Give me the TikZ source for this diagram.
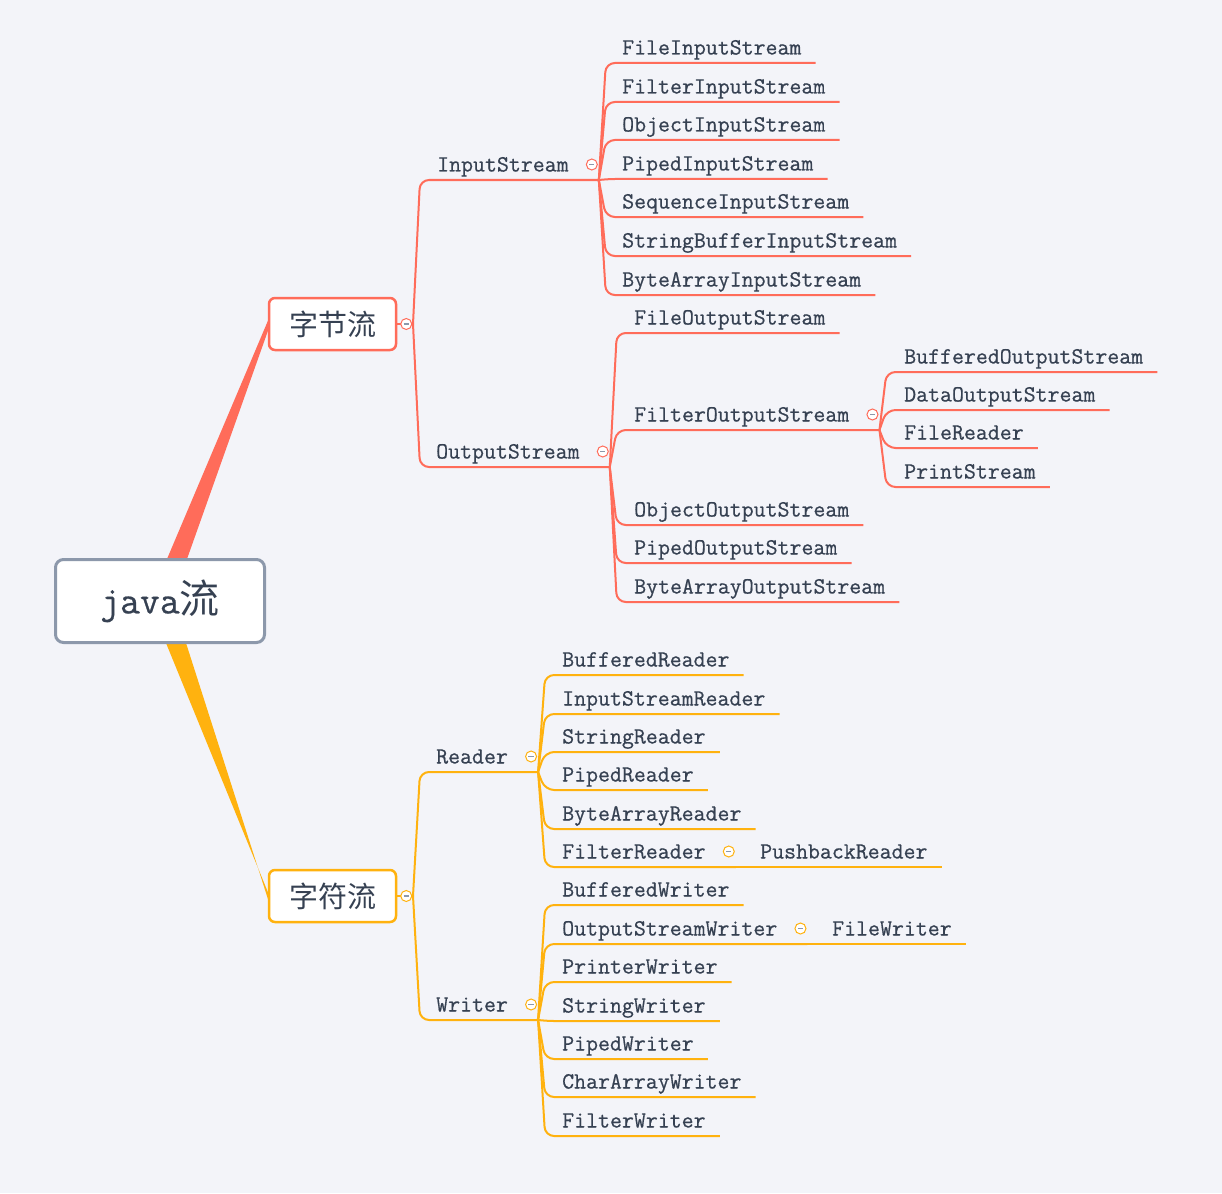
\documentclass[tikz,border=0pt]{standalone}
\usepackage{fontspec}
\usetikzlibrary{calc}
\newfontfamily\monofnt[FakeBold=0.6]{Latin Modern Mono}
\newfontfamily\cjkfnt{Noto Sans CJK SC}
\definecolor{bgc}{HTML}{F3F4F9}
\definecolor{cred}{HTML}{FF6C5A}
\definecolor{cyel}{HTML}{FFB20F}
\definecolor{txtc}{HTML}{364152}
\definecolor{rootb}{HTML}{8C98AB}
\definecolor{minusc}{HTML}{8C98AB}
\pgfdeclarelayer{bglayer}
\pgfsetlayers{bglayer,main}
\tikzset{
  leaf/.style={anchor=base west, inner sep=0pt, font=\monofnt\fontsize{23.2}{28}\selectfont, text=txtc},
  rl/.style={draw=cred, line width=2pt, rounded corners=9pt},
  yl/.style={draw=cyel, line width=2pt, rounded corners=9pt},
  colbtn/.style={circle, draw=#1, fill=white, minimum size=11pt, inner sep=0pt, line width=1pt,
    path picture={\draw[minusc, line width=1.3pt] ($(path picture bounding box.center)+(-2.6,0)$) -- ++(5.2,0);}},
  topbox/.style={draw=#1, line width=2.5pt, fill=white, rounded corners=6pt, minimum width=127pt, minimum height=52pt,
    font=\cjkfnt\fontsize{29}{34}\selectfont, text=txtc},
  rootbox/.style={draw=rootb, line width=3pt, fill=white, rounded corners=8pt, minimum width=209pt, minimum height=83pt, text=txtc}
}
% #1 style, #2 junction, #3 name, #4 x, #5 underline y, #6 text
\newcommand\leafn[6]{%
  \node[leaf] (#3) at (#4,#5-8.5) {#6};
  \coordinate (#3u) at ([xshift=14pt,yshift=-8.5pt]#3.base east);
  \draw[#1] (#2) -- ($(#2 |- #3u)+(7,0)$) -- (#3u);}
% #1 style, #2 junction, #3 name, #4 x, #5 underline y, #6 text, #7 colour
\newcommand\hubn[7]{%
  \node[leaf] (#3) at (#4,#5-8.5) {#6};
  \coordinate (#3J) at ([xshift=30pt,yshift=-8.5pt]#3.base east);
  \draw[#1] (#2) -- ($(#2 |- #3J)+(7,0)$) -- (#3J);
  \node[colbtn=#7] (#3c) at ([xshift=23pt,yshift=7pt]#3.base east) {};}
\begin{document}
\begin{tikzpicture}[x=1pt,y=-1pt]
\begin{pgfonlayer}{bglayer}
\fill[bgc] (0,0) rectangle (1222,1193);
\end{pgfonlayer}
\useasboundingbox (0,0) rectangle (1222,1193);

% main boxes
\node[topbox=cred] (b1) at (332.5,324) {字节流};
\node[topbox=cyel] (b2) at (332.5,896) {字符流};
\node[rootbox] (root) at (160,601)
  {\monofnt\fontsize{38.6}{46}\selectfont java\cjkfnt\fontsize{40}{48}\selectfont 流};

% wedges
\begin{pgfonlayer}{bglayer}
\fill[cred] ($(root.north)+(7,1)$) -- ($(root.north)+(27,1)$) -- ($(b1.west)+(0.5,6)$) -- ($(b1.west)+(0.5,-4)$) -- cycle;
\fill[cyel] ($(root.south)+(6,-1)$) -- ($(root.south)+(26,-1)$) -- ($(b2.west)+(0.5,4)$) -- ($(b2.west)+(0.5,-3)$) -- cycle;
\end{pgfonlayer}

% trunks
\coordinate (t1) at (413,324);
\coordinate (t2) at (413,896);
\draw[rl] (b1.east) -- (t1);
\draw[yl] (b2.east) -- (t2);

% byte streams
\hubn{rl}{t1}{is}{437}{180}{InputStream}{cred}
\hubn{rl}{t1}{os}{436}{467}{OutputStream}{cred}
\node[colbtn=cred] (b1c) at ([xshift=9pt]b1.east) {};

\leafn{rl}{isJ}{fis}{622}{63}{FileInputStream}
\leafn{rl}{isJ}{ftis}{622}{102}{FilterInputStream}
\leafn{rl}{isJ}{ois}{622}{140}{ObjectInputStream}
\leafn{rl}{isJ}{pis}{622}{179}{PipedInputStream}
\leafn{rl}{isJ}{sis}{622}{217}{SequenceInputStream}
\leafn{rl}{isJ}{sbis}{622}{256}{StringBufferInputStream}
\leafn{rl}{isJ}{bais}{622}{295}{ByteArrayInputStream}

\leafn{rl}{osJ}{fos}{634}{333}{FileOutputStream}
\hubn{rl}{osJ}{ftos}{634}{430}{FilterOutputStream}{cred}
\leafn{rl}{osJ}{oos}{634}{525}{ObjectOutputStream}
\leafn{rl}{osJ}{pos}{634}{563}{PipedOutputStream}
\leafn{rl}{osJ}{baos}{634}{602}{ByteArrayOutputStream}

\leafn{rl}{ftosJ}{bos}{904}{372}{BufferedOutputStream}
\leafn{rl}{ftosJ}{dos}{904}{410}{DataOutputStream}
\leafn{rl}{ftosJ}{fr}{904}{448}{FileReader}
\leafn{rl}{ftosJ}{ps}{904}{487}{PrintStream}

% character streams
\hubn{yl}{t2}{rd}{436}{772}{Reader}{cyel}
\hubn{yl}{t2}{wr}{436}{1020}{Writer}{cyel}
\node[colbtn=cyel] (b2c) at ([xshift=9pt]b2.east) {};

\leafn{yl}{rdJ}{br}{562}{675}{BufferedReader}
\leafn{yl}{rdJ}{isr}{562}{714}{InputStreamReader}
\leafn{yl}{rdJ}{sr}{562}{752}{StringReader}
\leafn{yl}{rdJ}{pr}{562}{790}{PipedReader}
\leafn{yl}{rdJ}{bar}{562}{829}{ByteArrayReader}
\hubn{yl}{rdJ}{ftr}{562}{867}{FilterReader}{cyel}
\node[leaf] (pbr) at (760,858.5) {PushbackReader};
\coordinate (pbru) at ([xshift=14pt,yshift=-8.5pt]pbr.base east);
\draw[yl] (ftrJ) -- (pbru);

\leafn{yl}{wrJ}{bw}{562}{905}{BufferedWriter}
\hubn{yl}{wrJ}{osw}{562}{944}{OutputStreamWriter}{cyel}
\node[leaf] (fw) at (832,935.5) {FileWriter};
\coordinate (fwu) at ([xshift=14pt,yshift=-8.5pt]fw.base east);
\draw[yl] (oswJ) -- (fwu);
\leafn{yl}{wrJ}{pw}{562}{982}{PrinterWriter}
\leafn{yl}{wrJ}{sw}{562}{1021}{StringWriter}
\leafn{yl}{wrJ}{pdw}{562}{1059}{PipedWriter}
\leafn{yl}{wrJ}{caw}{562}{1097}{CharArrayWriter}
\leafn{yl}{wrJ}{ftw}{562}{1136}{FilterWriter}
\end{tikzpicture}
\end{document}
